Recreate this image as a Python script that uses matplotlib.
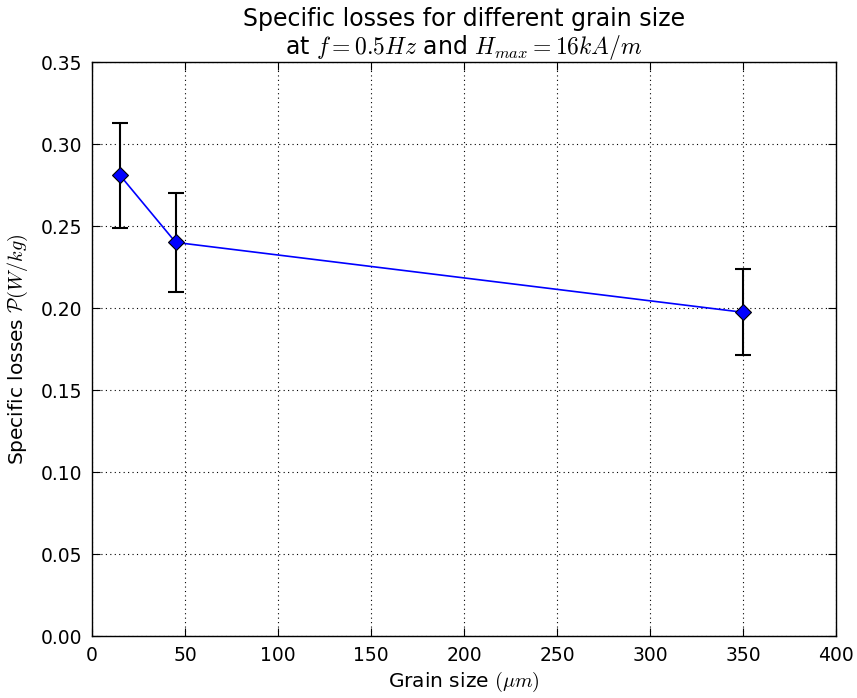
import matplotlib
matplotlib.use('Agg')
import matplotlib.pyplot as plt

grain_size = [15, 45, 350]
losses = [0.281, 0.240, 0.1974]
losses_err = [0.032, 0.0303, 0.0262]

plt.rcParams['mathtext.fontset'] = 'cm'
plt.rcParams['font.family'] = 'DejaVu Sans'

fig = plt.figure(figsize=(8.57, 6.98), dpi=100)
ax = fig.add_axes([92 / 857, 1 - 636 / 698, (836 - 92) / 857, (636 - 62) / 698])

ax.plot(grain_size, losses, color='blue', lw=1.2, zorder=2)
ax.errorbar(grain_size, losses, yerr=losses_err, fmt='none', ecolor='black',
            elinewidth=1.5, capsize=6, capthick=1.5, zorder=3)
ax.plot(grain_size, losses, ls='none', marker='D', ms=8, mfc='blue', mec='black',
        mew=0.8, zorder=4)

ax.set_xlim(0, 400)
ax.set_ylim(0, 0.35)
ax.set_xticks(range(0, 401, 50))
ax.set_yticks([i * 0.05 for i in range(8)])
ax.set_yticklabels(['%.2f' % (i * 0.05) for i in range(8)])
ax.grid(True, color='black', ls=(0, (1, 3)), lw=0.8)
ax.tick_params(direction='in', top=True, right=True, labelsize=13.5, length=6, pad=7)
for s in ax.spines.values():
    s.set_linewidth(1.0)

ax.set_xlabel(r'Grain size $(\mu m)$', fontsize=14.5, labelpad=4)
ax.set_ylabel(r'Specific losses $\mathcal{P}(W/kg)$', fontsize=14.5, labelpad=8)
ax.set_title('Specific losses for different grain size\nat $f=0.5Hz$ and $H_{max}=16kA/m$',
             fontsize=17, pad=6, linespacing=1.1)

fig.savefig('out.png', dpi=100)
